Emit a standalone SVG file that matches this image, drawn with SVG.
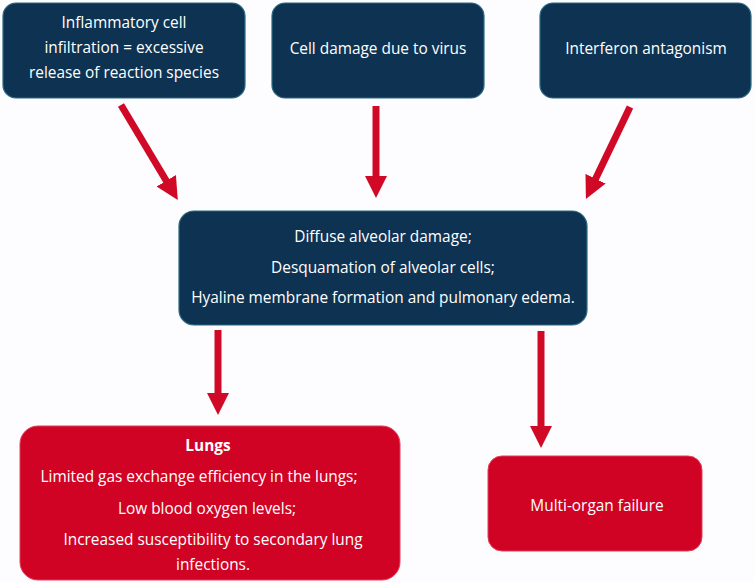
<svg xmlns="http://www.w3.org/2000/svg" width="755" height="583" viewBox="0 0 755 583">
<defs>
<style>
.navy{fill:#0e3352;stroke:#2a6a80;stroke-width:1.2}
.red{fill:#d10324;stroke:#e0405a;stroke-width:1}
text{font-family:"Open Sans","Liberation Sans",sans-serif;font-size:15.4px;fill:#ffffff;text-anchor:middle}
.b{font-weight:bold}
.arr{stroke:#d00a26;stroke-width:7;fill:none;marker-end:url(#ah)}
</style>
<marker id="ah" markerWidth="3.2" markerHeight="3.2" refX="0.2" refY="1.6" orient="auto" markerUnits="strokeWidth">
<path d="M0,0 L3.2,1.6 L0,3.2 Z" fill="#d00a26"/>
</marker>
</defs>
<rect width="755" height="583" fill="#fdfcfe"/>
<g id="connectors">
<line class="arr" x1="121" y1="105" x2="167" y2="182"/>
<line class="arr" x1="376" y1="106" x2="376" y2="177"/>
<line class="arr" x1="630" y1="107" x2="595" y2="180"/>
<line class="arr" x1="218" y1="330" x2="218" y2="394"/>
<line class="arr" x1="541" y1="331" x2="541" y2="427"/>
</g>
<g id="n1">
<rect class="navy" x="3" y="3" width="242" height="95" rx="13"/>
<text x="124" y="28">Inflammatory cell</text>
<text x="124" y="53">infiltration = excessive</text>
<text x="124" y="78">release of reaction species</text>
</g>
<g id="n2">
<rect class="navy" x="272" y="3" width="212" height="95" rx="13"/>
<text x="378" y="54">Cell damage due to virus</text>
</g>
<g id="n3">
<rect class="navy" x="540" y="3" width="211" height="95" rx="13"/>
<text x="646" y="54">Interferon antagonism</text>
</g>
<g id="n4">
<rect class="navy" x="179" y="211" width="408" height="114" rx="15"/>
<text x="383" y="242">Diffuse alveolar damage;</text>
<text x="383" y="273">Desquamation of alveolar cells;</text>
<text x="383" y="303">Hyaline membrane formation and pulmonary edema.</text>
</g>
<g id="n5">
<rect class="red" x="20" y="426" width="380" height="154" rx="18"/>
<text class="b" x="208" y="451">Lungs</text>
<text x="199" y="482">Limited gas exchange efficiency in the lungs;</text>
<text x="207" y="514">Low blood oxygen levels;</text>
<text x="213" y="545">Increased susceptibility to secondary lung</text>
<text x="213" y="570">infections.</text>
</g>
<g id="n6">
<rect class="red" x="488" y="456" width="214" height="95" rx="14"/>
<text x="597" y="511">Multi-organ failure</text>
</g>
</svg>
